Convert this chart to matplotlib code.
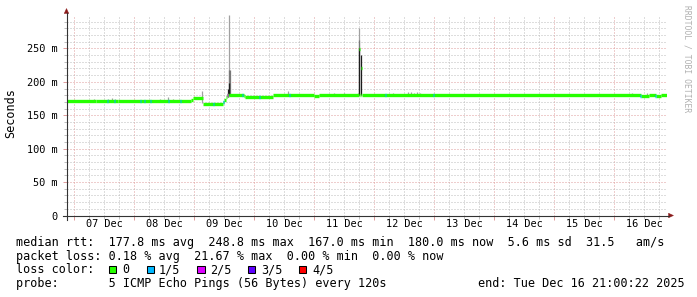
import matplotlib
matplotlib.use("Agg")
import matplotlib.pyplot as plt
import matplotlib.transforms as mtransforms
from matplotlib.patches import Rectangle, Polygon
from matplotlib.lines import Line2D
import numpy as np

# ---------------- data ----------------
# time axis: hours since window start (Sat Dec 06 21:00:22 2025), 10 days
span_hours = 240
first_midnight_h = 3
day_labels = ["07 Dec", "08 Dec", "09 Dec", "10 Dec", "11 Dec",
              "12 Dec", "13 Dec", "14 Dec", "15 Dec", "16 Dec"]

# median RTT (ms), step-wise: start hour of each step and its value
med_start_h = [0, 11.6, 20.4, 49.6, 50.4, 54.4, 62.4, 63.0, 63.6, 64.2,
               64.8, 70.8, 71.4, 82.4, 98.8, 100.8, 116.8, 117.2, 117.6,
               118.0, 229.6, 232.8, 235.6, 237.6]
med_ms = [171, 172, 171, 173.5, 176, 167.5, 169.5, 173, 177, 180,
          181, 179, 177, 180, 178.5, 180, 248.8, 180, 220,
          180, 179, 180.5, 178.5, 180]

# samples with packet loss (hours)
loss1_h = [16.3, 19.2, 29.6, 31.2, 33.6, 40.8, 45.6, 58.7, 62.8, 70.3,
           77.2, 89.2, 127.6, 146.8, 229.6, 235.6]
loss2_h = [64.4]

# smoke (ping spread): hour, low ms, high ms, shade
smoke_h = [10.8, 12.8, 16.4, 18.0, 19.2, 37.2, 40.4, 42.4, 54.3,
           64.9, 64.9, 65.3, 64.9, 64.5,
           88.4, 106.8, 110.8, 116.4,
           116.9, 116.9, 116.9, 117.7,
           130.4, 136.4, 137.6, 138.8, 140.0, 141.2, 226.0, 232.0]
smoke_lo = [171, 171, 171, 171, 171, 171, 171, 171, 168,
            181, 181, 181, 181, 178,
            180, 180, 180, 180,
            180, 180, 180, 180,
            180, 180, 180, 180, 180, 180, 180, 180]
smoke_hi = [174, 173, 175, 176, 175, 174, 177, 175, 186,
            300, 218, 218, 198, 190,
            186, 183, 184, 183,
            280, 262, 250, 240,
            183, 185, 185, 184, 185, 184, 183, 183]
smoke_shade = ["light"] * 9 + ["light", "mid", "mid", "dark", "dark"] + \
              ["light"] * 4 + ["light", "mid", "dark", "dark"] + ["light"] * 8

# legend texts
loss_labels = ["0", "1/5", "2/5", "3/5", "4/5"]
loss_colors = ["#26ff00", "#00b8ff", "#dd00ff", "#5e00ff", "#ff0000"]
row_median = "median rtt:  177.8 ms avg  248.8 ms max  167.0 ms min  180.0 ms now  5.6 ms sd  31.5   am/s"
row_loss = "packet loss: 0.18 % avg  21.67 % max  0.00 % min  0.00 % now"
row_probe = "probe:       5 ICMP Echo Pings (56 Bytes) every 120s"
end_text = "end: Tue Dec 16 21:00:22 2025"

# ---------------- figure ----------------
W, H = 697, 297
fig = plt.figure(figsize=(W / 100, H / 100), dpi=100)
fig.patch.set_facecolor("white")

def fx(px):
    return px / W

def fy(py):
    return 1 - py / H

L, R, B, T = 66.5, 666.5, 215.5, 15.0
ax = fig.add_axes([fx(L), fy(B), fx(R) - fx(L), fy(T) - fy(B)])
ax.set_xlim(0, span_hours)
ax.set_ylim(0, 300)
ax.set_facecolor("white")
for s in ax.spines.values():
    s.set_visible(False)

MONO = "DejaVu Sans Mono"
fs_leg = 8.43
fs_axis = 7.38

# grid / ticks
ax.set_xticks(np.arange(first_midnight_h, span_hours, 24))
ax.set_xticks(np.arange(first_midnight_h, span_hours, 6), minor=True)
ax.set_yticks(np.arange(0, 251, 50))
ax.set_yticks(np.arange(10, 300, 10), minor=True)
ax.set_xticklabels([])
ax.set_yticklabels(["0"] + [f"{v} m" for v in range(50, 251, 50)],
                   fontfamily=MONO, fontsize=fs_axis)
grid_minor = "#bdbdbd"
grid_major = "#df9c9c"
ax.grid(which="major", color=grid_major, linestyle=(0, (1, 2)), linewidth=0.72)
ax.grid(which="minor", color=grid_minor, linestyle=(0, (1, 2)), linewidth=0.72)
ax.tick_params(axis="y", which="major", length=3, width=0.7, color=grid_major,
               pad=3.2, labelcolor="black")
ax.tick_params(axis="y", which="minor", length=2, width=0.7, color=grid_minor)
ax.tick_params(axis="x", which="major", length=3, width=0.7, color=grid_major)
ax.tick_params(axis="x", which="minor", length=2, width=0.7, color=grid_minor)
ax.set_axisbelow(True)

# smoke
shade_col = {"light": "#a0a0a0", "mid": "#787878", "dark": "#1e1e1e"}
for h, lo, hi, sh in zip(smoke_h, smoke_lo, smoke_hi, smoke_shade):
    ax.vlines(h, lo, hi, colors=shade_col[sh], linewidth=0.9, zorder=3)

# median line (green = no loss)
t = np.array(med_start_h + [span_hours], dtype=float)
v = np.array(med_ms, dtype=float)
ax.hlines(v, t[:-1], t[1:], colors=loss_colors[0], linewidth=2.4,
          capstyle="butt", zorder=4)

def med_at(h):
    i = np.searchsorted(t, h, side="right") - 1
    return v[max(0, min(i, len(v) - 1))]

for h in loss1_h:
    ax.hlines(med_at(h), h - 0.3, h + 0.3, colors=loss_colors[1],
              linewidth=2.4, capstyle="butt", zorder=5)
for h in loss2_h:
    ax.hlines(med_at(h), h - 0.3, h + 0.3, colors=loss_colors[2],
              linewidth=2.4, capstyle="butt", zorder=5)

# x day labels at noon
tr = mtransforms.blended_transform_factory(ax.transData, fig.transFigure)
for i, lab in enumerate(day_labels):
    ax.text(first_midnight_h + 12 + 24 * i, fy(227.3), lab, transform=tr,
            ha="center", va="baseline", fontfamily=MONO, fontsize=fs_axis,
            color="black")

# axes lines and arrows
axis_col = "#333333"
fig.add_artist(Line2D([fx(L), fx(L)], [fy(219.5), fy(13)], color=axis_col,
                      linewidth=0.8, transform=fig.transFigure))
fig.add_artist(Line2D([fx(62.5), fx(668.5)], [fy(B), fy(B)], color=axis_col,
                      linewidth=0.8, transform=fig.transFigure))
arrow_col = "#8b1a1a"
fig.add_artist(Polygon([[fx(L), fy(8.5)], [fx(L - 2.3), fy(13.5)],
                        [fx(L + 2.3), fy(13.5)]], closed=True,
                       facecolor=arrow_col, edgecolor=arrow_col, linewidth=0.3,
                       transform=fig.transFigure))
fig.add_artist(Polygon([[fx(673.5), fy(B)], [fx(668.5), fy(B - 2.3)],
                        [fx(668.5), fy(B + 2.3)]], closed=True,
                       facecolor=arrow_col, edgecolor=arrow_col, linewidth=0.3,
                       transform=fig.transFigure))

# y label
fig.text(fx(11), fy(113), "Seconds", rotation=90, ha="center", va="center",
         fontfamily=MONO, fontsize=fs_leg, color="black")

# watermark
fig.text(fx(686.5), fy(5), "RRDTOOL / TOBI OETIKER", rotation=270,
         ha="center", va="top", fontfamily=MONO, fontsize=5.8, color="#b0b0b0")

# legend rows
x0 = fx(16)
fig.text(x0, fy(246.3), row_median, ha="left", va="baseline",
         fontfamily=MONO, fontsize=fs_leg)
fig.text(x0, fy(259.8), row_loss, ha="left", va="baseline",
         fontfamily=MONO, fontsize=fs_leg)
fig.text(x0, fy(273.3), "loss color:", ha="left", va="baseline",
         fontfamily=MONO, fontsize=fs_leg)
fig.text(x0, fy(286.8), row_probe, ha="left", va="baseline",
         fontfamily=MONO, fontsize=fs_leg)
fig.text(fx(478), fy(286.8), end_text, ha="left", va="baseline",
         fontfamily=MONO, fontsize=fs_leg)

box_x = [108.5, 146.5, 197.0, 247.5, 298.5]
lab_x = [122.5, 159.0, 210.0, 261.0, 312.0]
for bx, lx, lab, col in zip(box_x, lab_x, loss_labels, loss_colors):
    fig.add_artist(Rectangle((fx(bx), fy(273.3)), 7.5 / W, 7.8 / H,
                             facecolor=col, edgecolor="black", linewidth=0.75,
                             transform=fig.transFigure))
    fig.text(fx(lx), fy(273.3), lab, ha="left", va="baseline",
             fontfamily=MONO, fontsize=fs_leg)

fig.savefig("out.png", dpi=100, facecolor="white")
